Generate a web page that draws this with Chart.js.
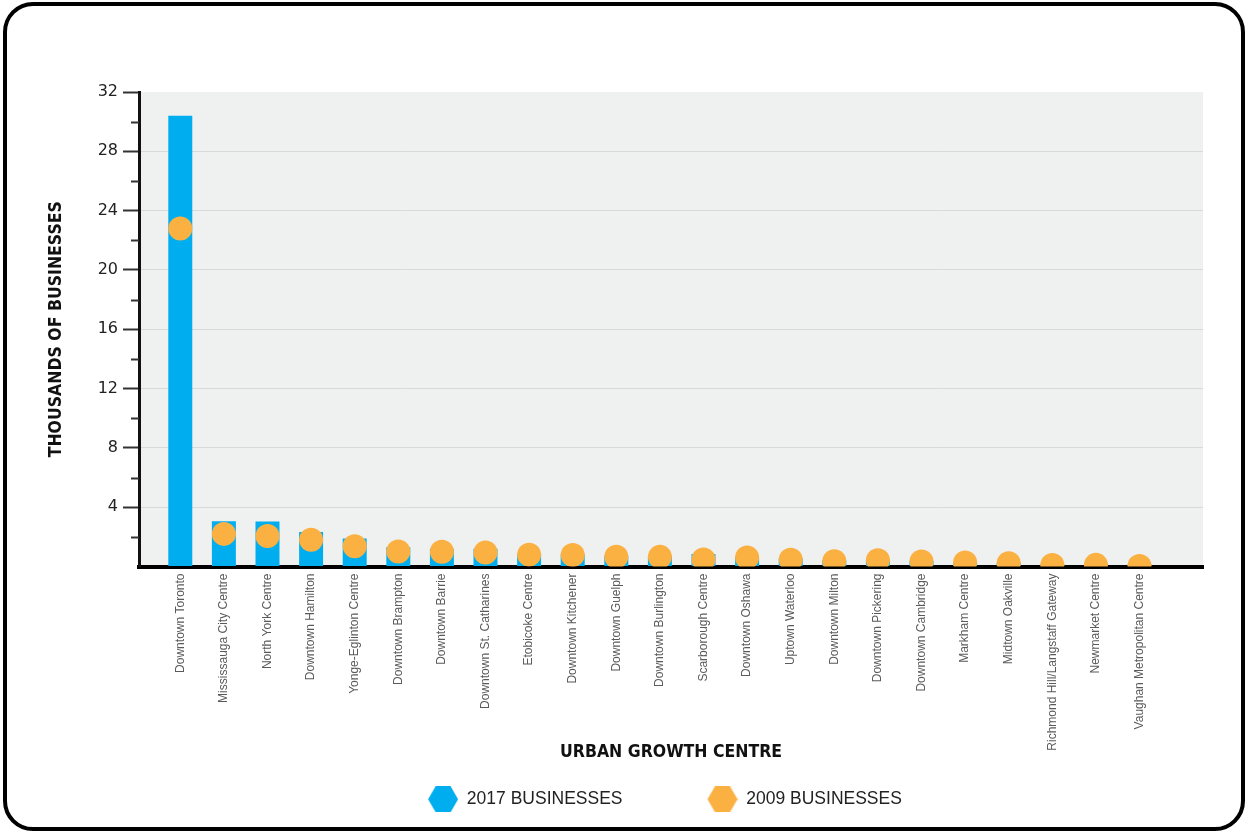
<!DOCTYPE html>
<html>
<head>
<meta charset="utf-8">
<script src="https://cdn.jsdelivr.net/npm/chart.js@4"></script>
<style>
  html, body { margin: 0; padding: 0; background: #fff; }
  body { width: 1248px; height: 834px; position: relative; overflow: hidden; }
  .frame { position: absolute; left: 3px; top: 2px; width: 1242px; height: 829px; box-sizing: border-box; border: 4px solid #000; border-radius: 30px; }
  #chart { position: absolute; left: 0; top: 0; }
</style>
</head>
<body>
<div class="frame"></div>
<canvas id="chart" width="1248" height="834"></canvas>
<script>
const CENTRES = ['Downtown Toronto', 'Mississauga City Centre', 'North York Centre', 'Downtown Hamilton', 'Yonge-Eglinton Centre', 'Downtown Brampton', 'Downtown Barrie', 'Downtown St. Catharines', 'Etobicoke Centre', 'Downtown Kitchener', 'Downtown Guelph', 'Downtown Burlington', 'Scarborough Centre', 'Downtown Oshawa', 'Uptown Waterloo', 'Downtown Milton', 'Downtown Pickering', 'Downtown Cambridge', 'Markham Centre', 'Midtown Oakville', 'Richmond Hill/Langstaff Gateway', 'Newmarket Centre', 'Vaughan Metropolitan Centre'];
const BUSINESSES_2017 = [30.4, 3.06, 3.04, 2.32, 1.89, 1.30, 1.19, 1.19, 0.85, 0.82, 0.72, 0.70, 0.85, 0.66, 0.55, 0.42, 0.48, 0.38, 0.30, 0.25, 0.14, 0.14, 0.06];
const BUSINESSES_2009 = [22.8, 2.20, 2.05, 1.80, 1.37, 1.01, 0.99, 0.95, 0.80, 0.77, 0.66, 0.65, 0.47, 0.60, 0.45, 0.36, 0.42, 0.33, 0.27, 0.22, 0.10, 0.11, 0.04];
const Y_TICKS = [0, 4, 8, 12, 16, 20, 24, 28, 32];
const Y_MINOR = [2, 6, 10, 14, 18, 22, 26, 30];
const SERIES_NAMES = ['2017 BUSINESSES', '2009 BUSINESSES'];

(function () {
  const BLUE = '#00aeef', ORANGE = '#fbb042', PLOT_BG = '#eff0f0';
  const LEGEND_GAP = 75;
  const condensed = "'Liberation Sans Narrow', 'DejaVu Sans Condensed', sans-serif";
  const plain = "'Liberation Sans', Arial, sans-serif";

  function hexIcon(color) {
    const c = document.createElement('canvas');
    c.width = LEGEND_GAP + 30; c.height = 26;
    const g = c.getContext('2d'), x0 = LEGEND_GAP;
    g.fillStyle = color;
    g.beginPath();
    g.moveTo(x0, 13); g.lineTo(x0 + 7.5, 0); g.lineTo(x0 + 22.5, 0);
    g.lineTo(x0 + 30, 13); g.lineTo(x0 + 22.5, 26); g.lineTo(x0 + 7.5, 26);
    g.closePath(); g.fill();
    return c;
  }
  const icons = [hexIcon(BLUE), hexIcon(ORANGE)];

  const plotBg = {
    id: 'plotBg',
    beforeDraw(chart) {
      const { ctx, chartArea: a } = chart;
      ctx.save(); ctx.fillStyle = PLOT_BG; ctx.fillRect(a.left, a.top, a.right - a.left, a.bottom - a.top); ctx.restore();
    },
    afterDraw(chart) {
      // short minor ticks on the y axis
      const { ctx, chartArea: a, scales: { y } } = chart;
      ctx.save(); ctx.strokeStyle = '#333'; ctx.lineWidth = 2;
      Y_MINOR.forEach(v => {
        const py = Math.round(y.getPixelForValue(v)) + 0.5;
        ctx.beginPath(); ctx.moveTo(a.left - 8, py); ctx.lineTo(a.left, py); ctx.stroke();
      });
      ctx.restore();
    },
  };

  const hideEnds = c => c.tick && (c.tick.value === 0 || c.tick.value === 32);

  new Chart(document.getElementById('chart'), {
    data: {
      datasets: [
        { type: 'bar', label: SERIES_NAMES[0], data: BUSINESSES_2017.map((v, i) => ({ x: i, y: v })), backgroundColor: BLUE, borderWidth: 0, barPercentage: 0.55, categoryPercentage: 1, order: 1 },
        { type: 'scatter', label: SERIES_NAMES[1], data: BUSINESSES_2009.map((v, i) => ({ x: i, y: v })), backgroundColor: ORANGE, borderWidth: 0, pointRadius: 12, pointHoverRadius: 12, clip: 0, order: 0 },
      ],
    },
    options: {
      responsive: false, animation: false, devicePixelRatio: 1,
      layout: { padding: { top: 92, left: 52, right: 45, bottom: 16 } },
      plugins: {
        tooltip: { enabled: false },
        legend: {
          position: 'bottom',
          labels: {
            usePointStyle: true, pointStyleWidth: LEGEND_GAP + 30, padding: 10, color: '#222',
            font: { family: plain, size: 17.5 },
            sort: (a, b) => a.datasetIndex - b.datasetIndex,
            generateLabels: chart => Chart.defaults.plugins.legend.labels.generateLabels(chart).map(it => ({ ...it, pointStyle: icons[it.datasetIndex] })),
          },
        },
      },
      scales: {
        x: {
          type: 'linear', min: -0.947, max: 23.456, offset: false,
          afterBuildTicks: s => { s.ticks = CENTRES.map((_, i) => ({ value: i })); },
          afterFit: s => { s.height = 214; },
          grid: { display: false, drawTicks: false },
          border: { display: true, color: '#000', width: 4 },
          ticks: { autoSkip: false, minRotation: 90, maxRotation: 90, padding: 7, color: '#5a5a5a', font: { family: plain, size: 12 }, callback: v => CENTRES[v] },
          title: { display: true, text: 'URBAN GROWTH CENTRE', color: '#111', font: { family: condensed, size: 17.5, weight: 'bold' }, padding: { top: 0, bottom: 18 } },
        },
        y: {
          min: 0, max: 32,
          afterBuildTicks: s => { s.ticks = Y_TICKS.map(v => ({ value: v })); },
          afterFit: s => { s.width = 87; },
          grid: { color: c => hideEnds(c) ? 'rgba(0,0,0,0)' : '#d8d9d9', lineWidth: 1, tickLength: 16, tickColor: c => (c.tick && c.tick.value === 0) ? 'rgba(0,0,0,0)' : '#333', tickWidth: 2 },
          border: { display: true, color: '#111', width: 3 },
          ticks: { padding: 5, color: '#222', font: { family: "'DejaVu Sans', sans-serif", size: 16 }, callback: v => v === 0 ? '' : String(v) },
          title: { display: true, text: 'THOUSANDS OF BUSINESSES', color: '#111', font: { family: condensed, size: 17.5, weight: 'bold' }, padding: { top: -6, bottom: 0 } },
        },
      },
    },
    plugins: [plotBg],
  });
})();
</script>
</body>
</html>
